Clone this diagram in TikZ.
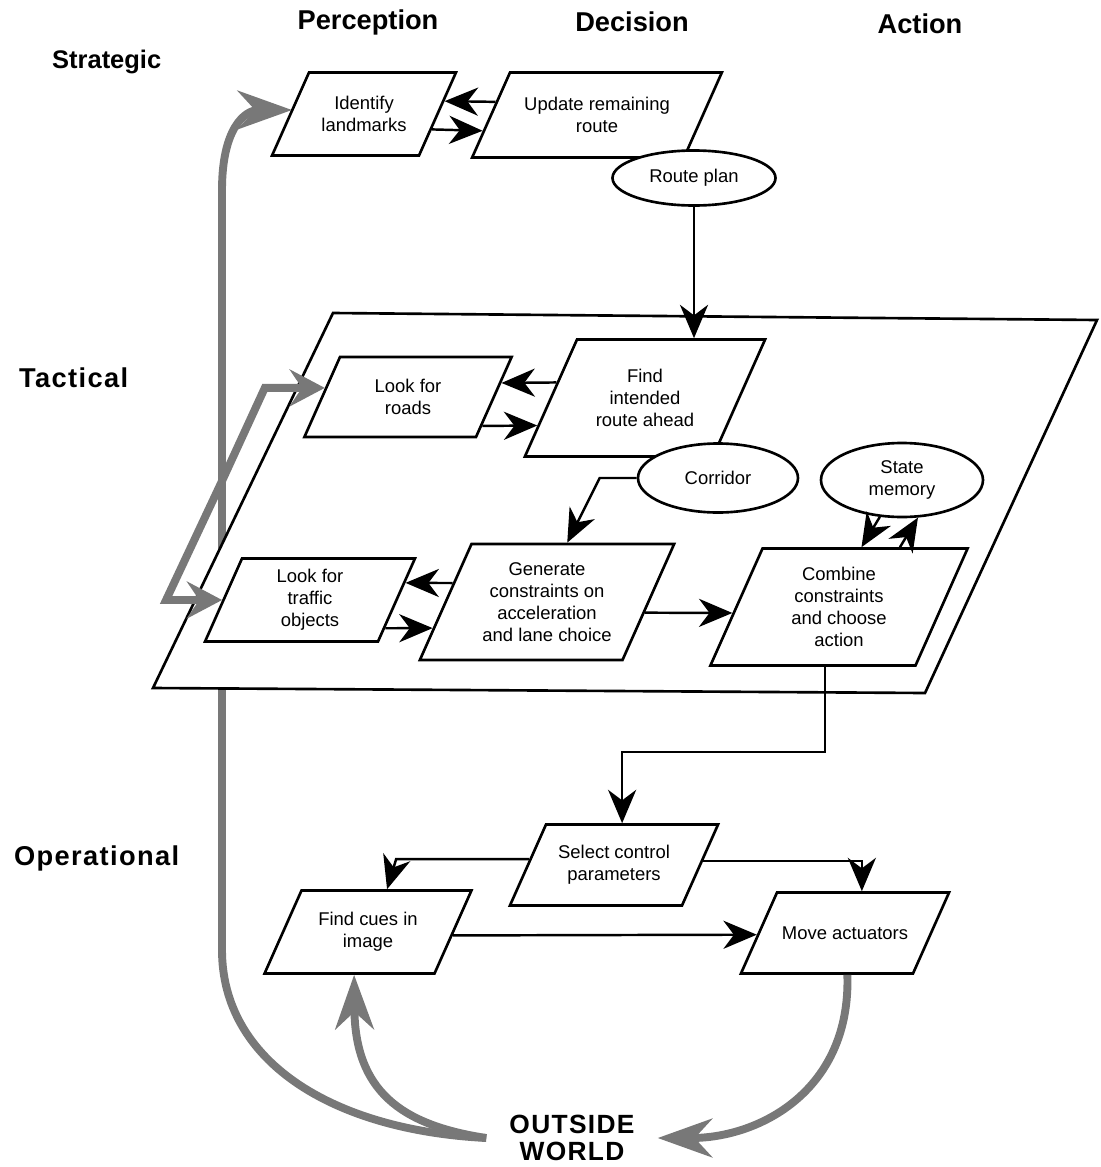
\documentclass[tikz,border=0pt]{standalone}
\usepackage{fontspec}
\setmainfont{Liberation Sans}
\newfontfamily\headfont[LetterSpace=5]{Liberation Sans}
\usetikzlibrary{
    arrows.meta,
    shapes.geometric,
    calc
}
\definecolor{LoopGrey}{RGB}{120,120,120}
\newlength{\px}
\setlength{\px}{0.02cm}
% text block of a slanted box: inner width, height (in px)
\newcommand{\boxtext}[3]{\parbox[c][#2\px][c]{#1\px}{\centering #3}}

\begin{document}
\begin{tikzpicture}[
            x=0.02cm, y=-0.02cm,
            font=\fontsize{10.5}{12.5}\selectfont,
            dims/.style 2 args={minimum width=#1*0.02cm, minimum height=#2*0.02cm},
            box/.style={trapezium, trapezium left angle=66, trapezium right angle=114,
                draw, fill=white, line width=1.5pt, inner sep=0pt},
            store/.style={ellipse, draw, fill=white, line width=1.5pt, align=center, inner sep=1pt},
            flow/.style={-{Stealth[length=19pt,width=16pt,inset=6pt]}, line width=1.4pt},
            feed/.style={-{Stealth[length=20pt,width=21pt,inset=7pt]}, draw=LoopGrey, line width=4.5pt},
            loop/.style={-{Stealth[length=31pt,width=22pt,inset=10pt]}, draw=LoopGrey, line width=4.5pt},
            column/.style={font=\bfseries\fontsize{15.5}{18}\selectfont},
            level/.style={font=\headfont\bfseries\fontsize{15.5}{18}\selectfont, anchor=west},
        ]
          \useasboundingbox (0,0) rectangle (1100,1167);

          % Column and level headings
          \node[column] (lperc) at (368,22) {Perception};
          \node[column] (ldec) at (632,22) {Decision};
          \node[column] (lact) at (920,24) {Action};
          \node[column, font=\bfseries\fontsize{14.5}{17}\selectfont, anchor=west] (lstrat) at (46,62) {Strategic};
          \node[level] (ltact) at (13,378) {Tactical};
          \node[level] (loper) at (8,858) {Operational};

          % Outside world and the long feedback loop (runs behind the tactical plane)
          \node[font=\headfont\bfseries\fontsize{15}{15.5}\selectfont, align=center, inner xsep=13pt] (world) at (572,1138) {OUTSIDE\\WORLD};
          \coordinate (fork) at (222,481);
          \draw[loop] (world.west) .. controls (330,1130) and (222,1060) .. (222,950)
            -- (222,190) .. controls (222,128) and (245,110) .. (292,110);

          % Tactical plane
          \draw[line width=1.5pt, fill=white] (333,313) -- (1097,320) -- (925,693) -- (153,688) -- cycle;

          % Strategic level
          \node[box] (ident) at (364,114) {\boxtext{110}{83}{Identify\\landmarks}};
          \node[box] (upd) at (597,115) {\boxtext{174}{85}{Update remaining\\route}};
          \node[store, dims={163}{55}] (rplan) at (694,178) {Route plan};

          % Tactical level
          \node[box] (roads) at (408,397) {\boxtext{136}{80}{Look for\\roads}};
          \node[box] (find) at (645,398) {\boxtext{136}{117}{Find\\intended\\route ahead}};
          \node[store, dims={160}{69}] (corr) at (718,478) {Corridor};
          \node[store, dims={162}{74}] (mem) at (902,480) {State\\memory};
          \node[box] (traffic) at (310,600) {\boxtext{136}{83}{Look for\\traffic\\objects}};
          \node[box] (gen) at (547,602) {\boxtext{151}{116}{Generate\\constraints on\\acceleration\\and lane choice}};
          \node[box] (comb) at (839,607) {\boxtext{153}{117}{Combine\\constraints\\and choose\\action}};

          % Operational level
          \node[box] (sel) at (614,865) {\boxtext{136}{81}{Select control\\parameters}};
          \node[box] (cues) at (368,932) {\boxtext{133}{83}{Find cues in\\image}};
          \node[box] (move) at (845,933) {\boxtext{136}{81}{Move actuators}};

          % Strategic arrows
          \draw[flow] ($(upd.top left corner)!0.35!(upd.bottom left corner)$) -- ($(ident.top right corner)!0.35!(ident.bottom right corner)$);
          \draw[flow] ($(ident.top right corner)!0.68!(ident.bottom right corner)$) -- ($(upd.top left corner)!0.68!(upd.bottom left corner)$);
          \draw[flow] (rplan.south) -- (rplan.south |- find.north);

          % Tactical arrows
          \draw[flow] ($(find.top left corner)!0.37!(find.bottom left corner)$) -- ($(roads.top right corner)!0.33!(roads.bottom right corner)$);
          \draw[flow] ($(roads.top right corner)!0.85!(roads.bottom right corner)$) -- ($(find.top left corner)!0.73!(find.bottom left corner)$);
          \draw[flow] (corr.west) -- ++(-37,0) -- ($(gen.top left corner)!0.47!(gen.top right corner)$);
          \draw[flow] ($(gen.top left corner)!0.34!(gen.bottom left corner)$) -- ($(traffic.top right corner)!0.30!(traffic.bottom right corner)$);
          \draw[flow] ($(traffic.top right corner)!0.83!(traffic.bottom right corner)$) -- ($(gen.top left corner)!0.72!(gen.bottom left corner)$);
          \draw[flow] ($(gen.top right corner)!0.59!(gen.bottom right corner)$) -- ($(comb.top left corner)!0.55!(comb.bottom left corner)$);
          \draw[flow] (mem.239) -- ($(comb.top left corner)!0.48!(comb.top right corner)$);
          \draw[flow] ($(comb.top left corner)!0.665!(comb.top right corner)$) -- (mem.293);
          \draw[flow] ($(comb.bottom left corner)!0.56!(comb.bottom right corner)$) -- ++(0,85) -| ($(sel.top left corner)!0.44!(sel.top right corner)$);

          % Operational arrows
          \draw[flow] ($(sel.top left corner)!0.43!(sel.bottom left corner)$) -- ++(-133,0) -- ($(cues.top left corner)!0.5!(cues.top right corner)$);
          \draw[flow] ($(sel.top right corner)!0.45!(sel.bottom right corner)$) -| ($(move.top left corner)!0.49!(move.top right corner)$);
          \draw[flow] ($(cues.top right corner)!0.54!(cues.bottom right corner)$) -- ($(move.top left corner)!0.52!(move.bottom left corner)$);

          % Perception feeds from the loop
          \coordinate (rdin) at ($(roads.top left corner)!0.39!(roads.bottom left corner)$);
          \draw[feed] (fork) -- ($(rdin)+(-60,0)$) -- (rdin);
          \draw[feed] (fork) -- ($(traffic.west)+(-56,0)$) -- (traffic.west);

          % Outside world loops
          \draw[loop] (world.west) .. controls (400,1125) and (355,1090) .. ($(cues.bottom left corner)!0.53!(cues.bottom right corner)$);
          \draw[loop] ($(move.bottom left corner)!0.62!(move.bottom right corner)$) .. controls (851,1090) and (760,1138) .. (world.east);
        \end{tikzpicture}
\end{document}
